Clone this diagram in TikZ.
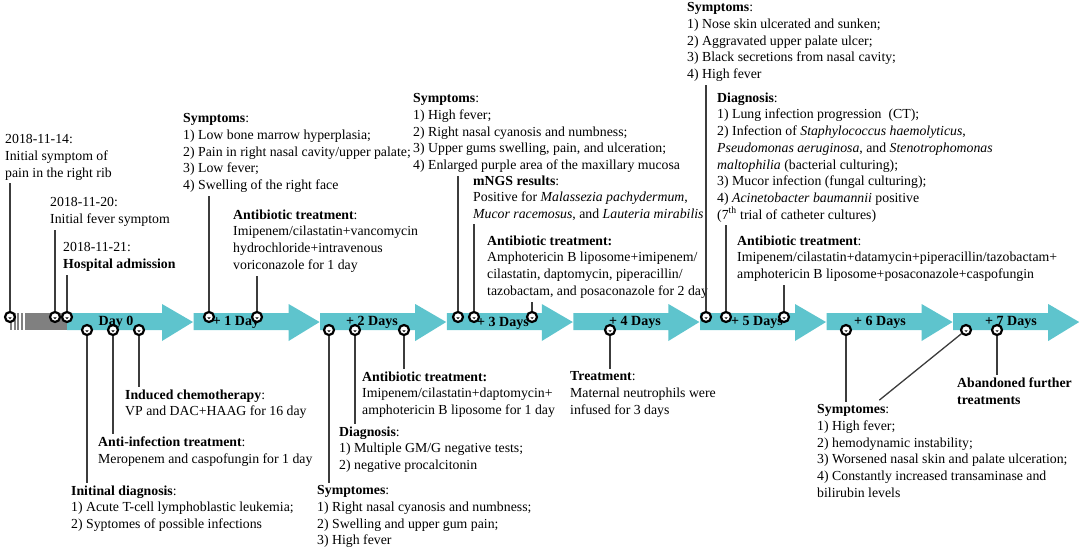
\documentclass[tikz,border=0pt]{standalone}
\usepackage{fontspec}
\setmainfont{Liberation Serif}
\definecolor{bandteal}{RGB}{94,196,205}
\definecolor{bandgray}{RGB}{128,128,128}
\definecolor{linegray}{RGB}{60,60,60}

\begin{document}
\begin{tikzpicture}[x=1pt,y=-1pt,
  every node/.style={font=\fontsize{13.8}{16.7}\selectfont},
  txt/.style={anchor=north west,align=left,inner sep=0pt},
  daylab/.style={font=\fontsize{14}{16.7}\selectfont\bfseries,inner sep=0pt},
  evt/.style={circle,draw=black,fill=white,line width=2.2pt,inner sep=0pt,
    minimum size=10pt,
    path picture={\fill[black] (path picture bounding box.center) ++(-1.7pt,-0.3pt)
      arc[start angle=180,end angle=360,radius=1.7pt] -- cycle;}},
  conn/.style={draw=linegray,line width=1.3pt,shorten >=3pt}]
\useasboundingbox (0,0) rectangle (1084,552);
\fill[bandgray] (25,313) rectangle (67,330);
\foreach \x in {10,13.5,17,20.5}
  \fill[bandgray] (\x,313) rectangle ++(2,17);
\foreach \i in {0,...,7}{
  \pgfmathsetmacro\s{67+126.6*\i}
  \fill[bandteal] (\s,313) -- ++(95,0) -- ++(0,-9) -- (\s+126,322)
    -- (\s+95,341) -- ++(0,-11) -- (\s,330) -- cycle;
}
\node[daylab] (d0) at (116,322) {Day 0};
\node[daylab] (d1) at (236,322) {+ 1 Day};
\node[daylab] (d2) at (372,322) {+ 2 Days};
\node[daylab] (d3) at (503,323) {+ 3 Days};
\node[daylab] (d4) at (635,322) {+ 4 Days};
\node[daylab] (d5) at (757,322) {+ 5 Days};
\node[daylab] (d6) at (880,322) {+ 6 Days};
\node[daylab] (d7) at (1011,322) {+ 7 Days};

\node[txt] (t14) at (5,134.5) {2018-11-14:\\Initial symptom of\\pain in the right rib};
\node[txt] (t20) at (50,197.5) {2018-11-20:\\Initial fever symptom};
\node[txt] (t21) at (63,242.5) {2018-11-21:\\\textbf{Hospital admission}};
\node[txt] (t1a) at (183,113.5) {\textbf{Symptoms}:\\1) Low bone marrow hyperplasia;\\2) Pain in right nasal cavity/upper palate;\\3) Low fever;\\4) Swelling of the right face};
\node[txt] (t1b) at (233,209.5) {\textbf{Antibiotic treatment}:\\Imipenem/cilastatin+vancomycin\\hydrochloride+intravenous\\voriconazole for 1 day};
\node[txt] (t3a) at (413,93.5) {\textbf{Symptoms}:\\1) High fever;\\2) Right nasal cyanosis and numbness;\\3) Upper gums swelling, pain, and ulceration;\\4) Enlarged purple area of the maxillary mucosa};
\node[txt] (t3b) at (473,175.5) {\textbf{mNGS results}:\\Positive for \textit{Malassezia pachydermum},\\\textit{Mucor racemosus}, and \textit{Lauteria mirabilis}};
\node[txt] (t3c) at (487,235.5) {\textbf{Antibiotic treatment:}\\Amphotericin B liposome+imipenem/\\cilastatin, daptomycin, piperacillin/\\tazobactam, and posaconazole for 2 day};
\node[txt] (t5a) at (687,2.5) {\textbf{Symptoms}:\\1) Nose skin ulcerated and sunken;\\2) Aggravated upper palate ulcer;\\3) Black secretions from nasal cavity;\\4) High fever};
\node[txt] (t5b) at (717,92.5) {\textbf{Diagnosis}:\\1) Lung infection progression~~(CT);\\2) Infection of \textit{Staphylococcus haemolyticus},\\\textit{Pseudomonas aeruginosa}, and \textit{Stenotrophomonas}\\\textit{maltophilia} (bacterial culturing);\\3) Mucor infection (fungal culturing);\\4) \textit{Acinetobacter baumannii} positive\\(7\textsuperscript{th} trial of catheter cultures)};
\node[txt] (t5c) at (737,235.5) {\textbf{Antibiotic treatment}:\\Imipenem/cilastatin+datamycin+piperacillin/tazobactam+\\amphotericin B liposome+posaconazole+caspofungin};
\node[txt] (t0c) at (125,389.5) {\textbf{Induced chemotherapy}:\\VP and DAC+HAAG for 16 day};
\node[txt] (t0b) at (98,436.5) {\textbf{Anti-infection treatment}:\\Meropenem and caspofungin for 1 day};
\node[txt] (t0a) at (71,485.5) {\textbf{Initinal diagnosis}:\\1) Acute T-cell lymphoblastic leukemia;\\2) Syptomes of possible infections};
\node[txt] (t2c) at (362,371.5) {\textbf{Antibiotic treatment:}\\Imipenem/cilastatin+daptomycin+\\amphotericin B liposome for 1 day};
\node[txt] (t2b) at (339,426.5) {\textbf{Diagnosis}:\\1) Multiple GM/G negative tests;\\2) negative procalcitonin};
\node[txt] (t2a) at (317,485.5) {\textbf{Symptomes}:\\1) Right nasal cyanosis and numbness;\\2) Swelling and upper gum pain;\\3) High fever};
\node[txt] (t4) at (570,371.5) {\textbf{Treatment}:\\Maternal neutrophils were\\infused for 3 days};
\node[txt] (t6) at (817,404.5) {\textbf{Symptomes}:\\1) High fever;\\2) hemodynamic instability;\\3) Worsened nasal skin and palate ulceration;\\4) Constantly increased transaminase and\\bilirubin levels};
\node[txt] (t7) at (957,377.5) {\textbf{Abandoned further}\\\textbf{treatments}};
\coordinate (s6) at (877,402);

\node[evt] (m14) at (10,317) {};
\node[evt] (m20) at (55,317) {};
\node[evt] (m21) at (67,317) {};
\node[evt] (m0a) at (87,330) {};
\node[evt] (m0b) at (113,330) {};
\node[evt] (m0c) at (139,330) {};
\node[evt] (m1a) at (209,317) {};
\node[evt] (m1b) at (257,317) {};
\node[evt] (m2a) at (329,330) {};
\node[evt] (m2b) at (355,330) {};
\node[evt] (m2c) at (404,330) {};
\node[evt] (m3a) at (458,317) {};
\node[evt] (m3b) at (474,317) {};
\node[evt] (m3c) at (532,317) {};
\node[evt] (m4) at (610,330) {};
\node[evt] (m5a) at (706,317) {};
\node[evt] (m5b) at (726,317) {};
\node[evt] (m5c) at (784,317) {};
\node[evt] (m6) at (846,330) {};
\node[evt] (m7a) at (966,330) {};
\node[evt] (m7b) at (997,330) {};

\draw[conn] (m14) -- (m14 |- t14.south);
\draw[conn] (m20) -- (m20 |- t20.south);
\draw[conn] (m21) -- (m21 |- t21.south);
\draw[conn] (m1a) -- (m1a |- t1a.south);
\draw[conn] (m1b) -- (m1b |- t1b.south);
\draw[conn] (m3a) -- (m3a |- t3a.south);
\draw[conn] (m3b) -- (m3b |- t3b.south);
\draw[conn] (m3c) -- (m3c |- t3c.south);
\draw[conn] (m5a) -- (m5a |- t5a.south);
\draw[conn] (m5b) -- (m5b |- t5b.south);
\draw[conn] (m5c) -- (m5c |- t5c.south);
\draw[conn] (m0a) -- (m0a |- t0a.north);
\draw[conn] (m0b) -- (m0b |- t0b.north);
\draw[conn] (m0c) -- (m0c |- t0c.north);
\draw[conn] (m2a) -- (m2a |- t2a.north);
\draw[conn] (m2b) -- (m2b |- t2b.north);
\draw[conn] (m2c) -- (m2c |- t2c.north);
\draw[conn] (m4) -- (m4 |- t4.north);
\draw[conn] (m6) -- (m6 |- t6.north);
\draw[conn] (m7a) -- (s6);
\draw[conn] (m7b) -- (m7b |- t7.north);
\end{tikzpicture}
\end{document}
